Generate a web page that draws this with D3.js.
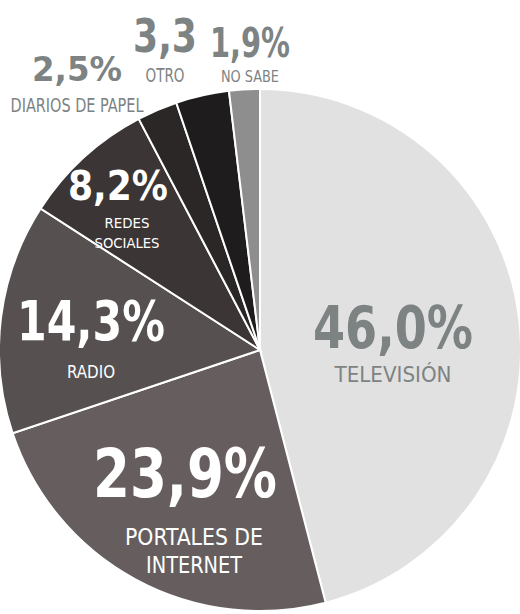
<!DOCTYPE html>
<html>
<head>
<meta charset="utf-8">
<script src="https://cdn.jsdelivr.net/npm/d3@7"></script>
<style>
  html, body { margin: 0; padding: 0; background: #fff; }
  svg { display: block; }
</style>
</head>
<body>
<svg width="520" height="614"></svg>
<script>
// media used to get informed (%)
const categories = ['Televisión', 'Portales de internet', 'Radio', 'Redes sociales', 'Diarios de papel', 'Otro', 'No sabe'];
const values = [46.0, 23.9, 14.3, 8.2, 2.5, 3.3, 1.9];
const valueLabels = ['46,0%', '23,9%', '14,3%', '8,2%', '2,5%', '3,3', '1,9%'];
const nameLines = [['TELEVISIÓN'], ['PORTALES DE', 'INTERNET'], ['RADIO'], ['REDES', 'SOCIALES'], ['DIARIOS DE PAPEL'], ['OTRO'], ['NO SABE']];
const colors = ['#e1e1e1', '#665e5e', '#575050', '#3b3535', '#2b2727', '#1e1c1c', '#8e8e8e'];

// label layout (annotation placement, not data)
const labelLayout = [
  {x: 393, y: 348, size: 59, w: 160, fill: '#7d8383', sub: {y: 382, size: 22, w: 117, gap: 0}},
  {x: 185, y: 497, size: 67, w: 184, fill: '#fff', sub: {y: 545, size: 23, w: 138, gap: 28}},
  {x: 91,  y: 340, size: 56, w: 148, fill: '#fff', sub: {y: 378, size: 18, w: 48, gap: 0}},
  {x: 118, y: 200, size: 40, w: 100, fill: '#fff', sub: {y: 228, size: 14, w: 45, gap: 20}},
  {x: 77,  y: 81,  size: 34, w: 90,  fill: '#7d8383', sub: {y: 112, size: 19, w: 133, gap: 0}},
  {x: 165, y: 52,  size: 46, w: 64,  fill: '#7d8383', sub: {y: 82, size: 19, w: 39, gap: 0}},
  {x: 250, y: 57,  size: 40, w: 80,  fill: '#7d8383', sub: {y: 82, size: 16, w: 58, gap: 0}}
];
const subWidths = [[117], [138, 96], [48], [45, 65], [133], [39], [58]];

const font = '"Liberation Sans Narrow", "DejaVu Sans Condensed", "Liberation Sans", sans-serif';
const svg = d3.select('svg');
const cx = 260, cy = 350, r = 261;

const pie = d3.pie().sort(null).value(d => d);
const arc = d3.arc().innerRadius(0).outerRadius(r);

const g = svg.append('g').attr('transform', `translate(${cx},${cy})`);
g.selectAll('path')
  .data(pie(values))
  .enter().append('path')
  .attr('d', arc)
  .attr('fill', (d, i) => colors[i])
  .attr('stroke', '#fff')
  .attr('stroke-width', 2);

const labels = svg.append('g');
labelLayout.forEach((L, i) => {
  labels.append('text')
    .attr('x', L.x - L.w / 2)
    .attr('y', L.y)
    .attr('font-family', font)
    .attr('font-weight', 'bold')
    .attr('font-size', L.size)
    .attr('textLength', L.w)
    .attr('lengthAdjust', 'spacingAndGlyphs')
    .attr('fill', L.fill)
    .text(valueLabels[i]);
  nameLines[i].forEach((line, j) => {
    const w = subWidths[i][j];
    const subX = i === 1 ? 194 : (i === 3 ? 127 : L.x);
    labels.append('text')
      .attr('x', subX - w / 2)
      .attr('y', L.sub.y + j * L.sub.gap)
      .attr('font-family', font)
      .attr('font-size', L.sub.size)
      .attr('textLength', w)
      .attr('lengthAdjust', 'spacingAndGlyphs')
      .attr('fill', L.fill)
      .text(line);
  });
});
</script>
</body>
</html>
